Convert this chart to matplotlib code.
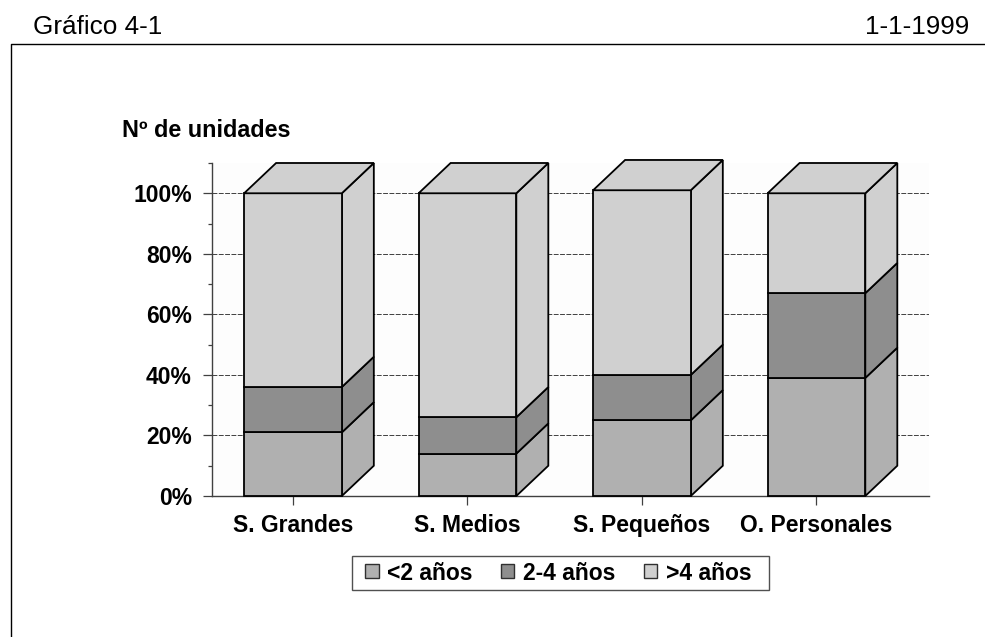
import matplotlib
matplotlib.use("Agg")
import matplotlib.pyplot as plt
from matplotlib.patches import Patch, Rectangle
from matplotlib.lines import Line2D

plt.rcParams['font.family'] = ['Liberation Sans', 'DejaVu Sans']

categories = ['S. Grandes', 'S. Medios', 'S. Pequeños', 'O. Personales']
menos_2 = [21, 14, 25, 39]
de_2_a_4 = [15, 12, 15, 28]
mas_4 = [64, 74, 61, 33]
series_names = ['<2 años', '2-4 años', '>4 años']
y_ticks = [0, 20, 40, 60, 80, 100]
y_minor = [10, 30, 50, 70, 90, 110]
y_labels = ['0%', '20%', '40%', '60%', '80%', '100%']

colors = ['#b0b0b0', '#8e8e8e', '#d0d0d0']
W, H = 985, 637
fig = plt.figure(figsize=(W / 100, H / 100), dpi=100, facecolor='white')
L, R, T, B = 212, 929, 163, 496
ax = fig.add_axes([L / W, 1 - B / H, (R - L) / W, (B - T) / H])
ax.set_facecolor('#fdfdfd')
ax.set_xlim(-0.464, 3.645)
ax.set_ylim(0, 110)

bw = 0.56
dx = 32 / 174.5
dy = 10

for i in range(len(categories)):
    base = 0
    for vals, c in zip([menos_2, de_2_a_4, mas_4], colors):
        v = vals[i]
        x0, x1 = i - bw / 2, i + bw / 2
        y0, y1 = base, base + v
        kw = dict(facecolor=c, edgecolor='black', linewidth=1.3, joinstyle='miter', zorder=3, clip_on=False)
        ax.fill([x1, x1 + dx, x1 + dx, x1], [y0, y0 + dy, y1 + dy, y1], **kw)
        ax.fill([x0, x1, x1, x0], [y0, y0, y1, y1], **kw)
        base = y1
    ax.fill([x0, x0 + dx, x1 + dx, x1], [base, base + dy, base + dy, base],
            facecolor=colors[2], edgecolor='black', linewidth=1.3, zorder=3, clip_on=False)

ax.set_yticks(y_ticks)
ax.set_yticklabels(y_labels, fontsize=16.5, fontweight='bold', color='black')
ax.set_yticks(y_minor, minor=True)
ax.tick_params(axis='y', which='major', length=6.5, width=0.9, color='#404040', pad=8)
ax.tick_params(axis='y', which='minor', length=3, width=0.9, color='#404040')
ax.set_xticks(range(len(categories)))
ax.set_xticklabels(categories, fontsize=16.5, fontweight='bold', color='black')
ax.tick_params(axis='x', length=6.5, width=0.9, color='#404040', pad=6.5)
for s in ['top', 'right']:
    ax.spines[s].set_visible(False)
for s in ['left', 'bottom']:
    ax.spines[s].set_color('#404040')
    ax.spines[s].set_linewidth(1.0)
ax.yaxis.grid(True, which='major', color='#404040', linestyle=(0, (5, 1.5)), linewidth=0.7, zorder=1)
ax.set_axisbelow(True)

fig.text(122 / W, 1 - 130.5 / H, 'Nº de unidades', fontsize=16.8, fontweight='bold', va='center', ha='left')
fig.text(33 / W, 1 - 27 / H, 'Gráfico 4-1', fontsize=18.8, va='center', ha='left')
fig.text(969 / W, 1 - 27 / H, '1-1-1999', fontsize=18.8, va='center', ha='right')

fig.add_artist(Line2D([11 / W, 11 / W, 1], [0, 1 - 44 / H, 1 - 44 / H], color='black', lw=1.0))

fig.add_artist(Rectangle((352 / W, 1 - 590 / H), 417 / W, 34 / H, transform=fig.transFigure,
                         facecolor='white', edgecolor='#505050', linewidth=1.0))
handles = [Patch(facecolor=c, edgecolor='#303030', linewidth=1) for c in colors]
leg = fig.legend(handles, series_names, ncol=3, loc='center', bbox_to_anchor=(558.5 / W, 1 - 573 / H),
                 prop={'size': 16.5, 'weight': 'bold'}, frameon=False,
                 handlelength=0.57, handleheight=0.57, handletextpad=0.38, columnspacing=1.25,
                 borderpad=0.1, borderaxespad=0)

fig.savefig('out.png', dpi=100, facecolor='white')
